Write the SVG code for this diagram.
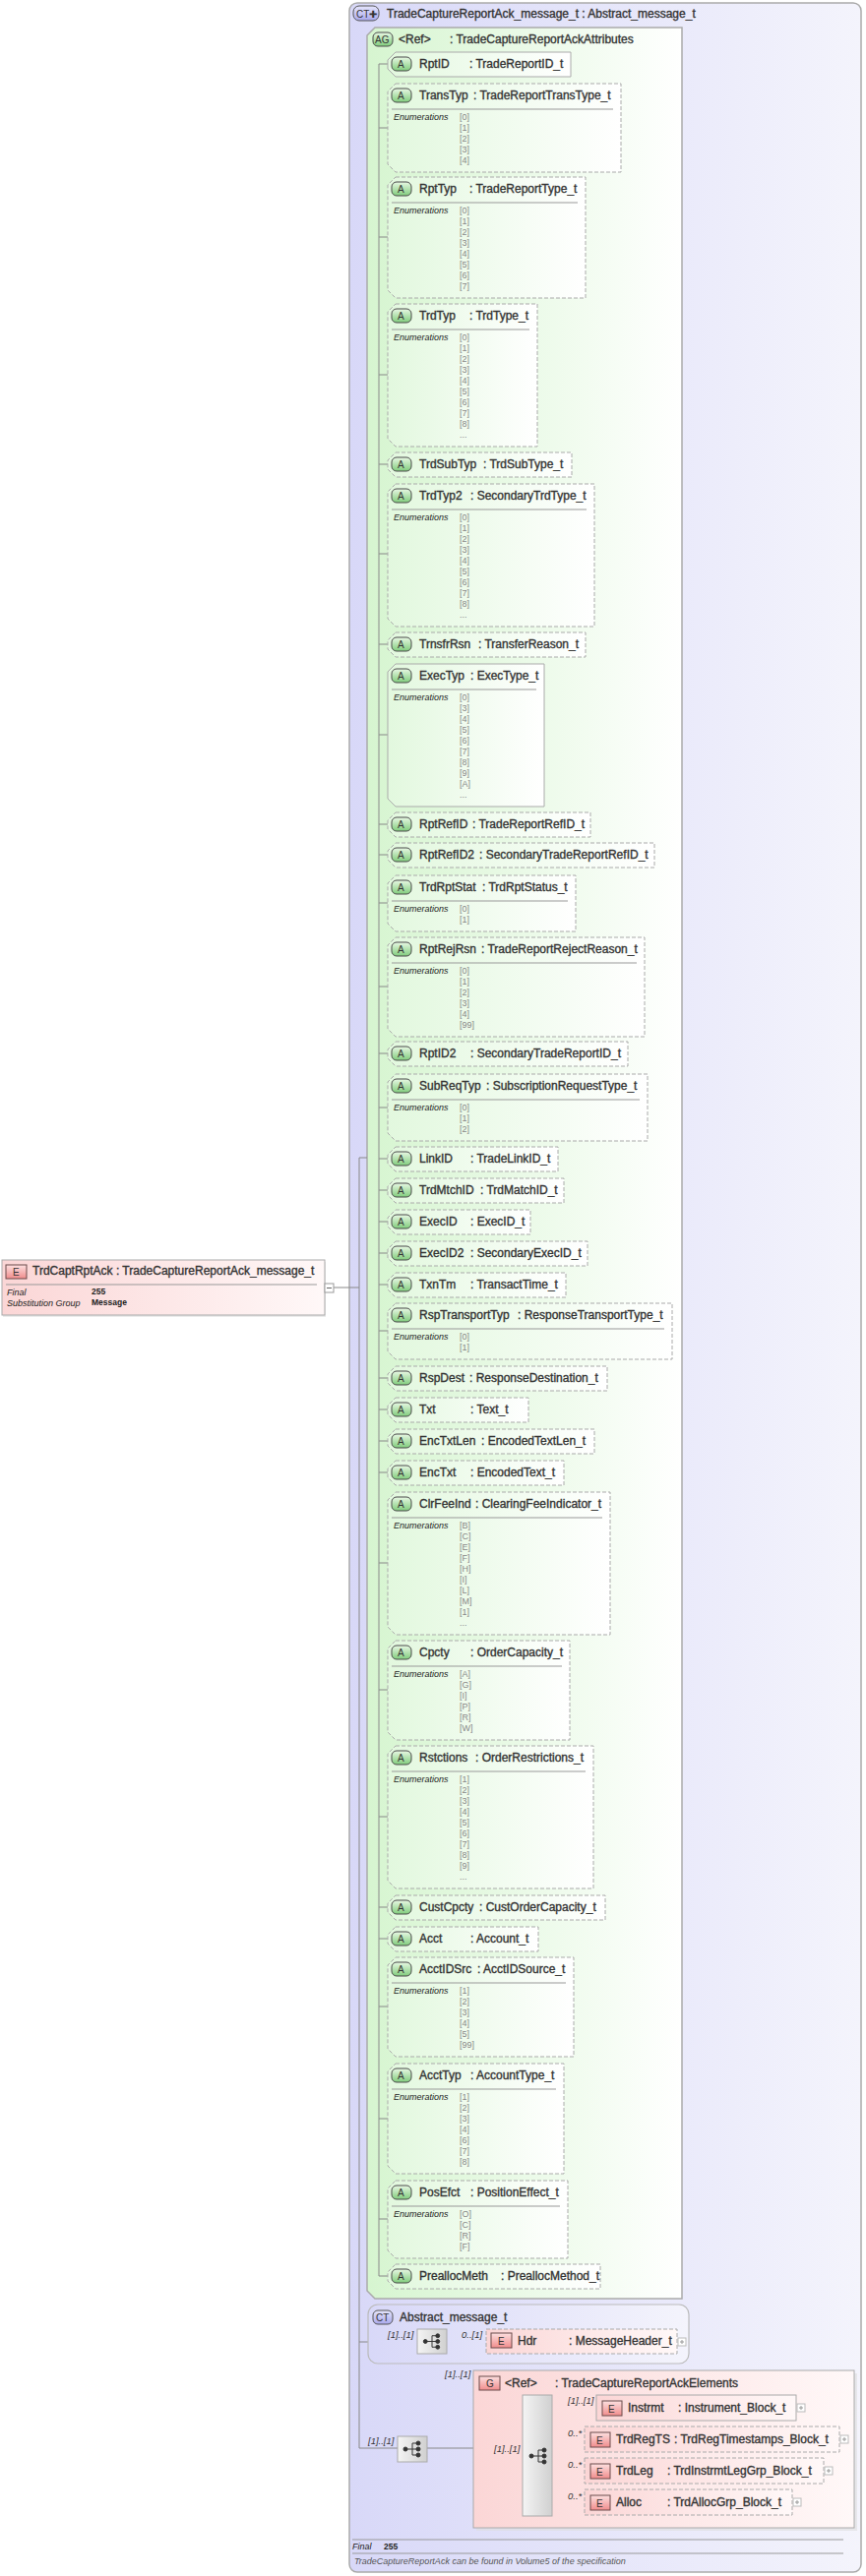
<svg xmlns="http://www.w3.org/2000/svg" width="880" height="2619" viewBox="0 0 880 2619">
<defs>
<linearGradient id="gCT" x1="0" x2="1" y1="0" y2="0"><stop offset="0" stop-color="#d8d8f8"/><stop offset="1" stop-color="#f4f4fc"/></linearGradient>
<linearGradient id="gAG" x1="0" x2="1" y1="0" y2="0"><stop offset="0" stop-color="#d6f5d0"/><stop offset="1" stop-color="#ffffff"/></linearGradient>
<linearGradient id="gAt" x1="0" x2="1" y1="0" y2="0"><stop offset="0" stop-color="#e2f8de"/><stop offset="1" stop-color="#ffffff"/></linearGradient>
<linearGradient id="gE" x1="0" x2="1" y1="0" y2="0"><stop offset="0" stop-color="#fbd6d6"/><stop offset="1" stop-color="#fff8f8"/></linearGradient>
<linearGradient id="gBA" x1="0" x2="0" y1="0" y2="1"><stop offset="0" stop-color="#e8f8e4"/><stop offset="1" stop-color="#80cc7c"/></linearGradient>
<linearGradient id="gBE" x1="0" x2="0" y1="0" y2="1"><stop offset="0" stop-color="#fde0e0"/><stop offset="1" stop-color="#f08c8c"/></linearGradient>
<linearGradient id="gBC" x1="0" x2="0" y1="0" y2="1"><stop offset="0" stop-color="#e6e6fc"/><stop offset="1" stop-color="#a8a8ec"/></linearGradient>
<linearGradient id="gSeq" x1="0" x2="1" y1="0" y2="0"><stop offset="0" stop-color="#f4f4f4"/><stop offset="1" stop-color="#d0d0d0"/></linearGradient>
<symbol id="seqI" viewBox="0 0 30 26"><g fill="#333" stroke="#333" stroke-width="1"><circle cx="8" cy="13" r="2"/><line x1="8" y1="13" x2="15" y2="13"/><line x1="15" y1="7" x2="15" y2="19"/><line x1="15" y1="7" x2="20" y2="7"/><line x1="15" y1="13" x2="20" y2="13"/><line x1="15" y1="19" x2="20" y2="19"/><circle cx="21" cy="7" r="2"/><circle cx="21" cy="13" r="2"/><circle cx="21" cy="19" r="2"/></g></symbol>
</defs>
<style>
text{font-family:"Liberation Sans",Arial,sans-serif}
.n{font-size:12px;fill:#333;stroke:#333;stroke-width:0.35}
.en{font-size:9px;font-style:italic;fill:#222}
.ev{font-size:9px;fill:#888}
.bd{font-size:10px;fill:#333}
.m{font-size:9.5px;font-style:italic;fill:#333}
.ab{stroke:#aaa;stroke-width:1;fill:url(#gAt)}
.dash{stroke-dasharray:4 2}
.ba{fill:url(#gBA);stroke:#4a4a4a;stroke-width:1}
.be{fill:url(#gBE);stroke:#6a4a4a;stroke-width:1}
.cn{stroke:#888;stroke-width:1;fill:none}
.sep{stroke:#999;stroke-width:1}
</style>

<g id="ct-main">
<rect x="355" y="3" width="520" height="2612" rx="8" fill="url(#gCT)" stroke="#aaa" stroke-width="1.5"/>
<rect x="359" y="6" width="26" height="15" rx="6" fill="url(#gBC)" stroke="#555"/>
<text x="362" y="18" class="bd">CT✚</text>
<text x="393" y="18" class="n">TradeCaptureReportAck_message_t : Abstract_message_t</text>
<line x1="358" y1="2582" x2="857" y2="2582" class="sep"/>
<text x="358" y="2592" class="en">Final</text>
<text x="390" y="2592" style="font-size:8.5px;font-weight:bold;fill:#222">255</text>
<line x1="358" y1="2596" x2="857" y2="2596" class="sep"/>
<text x="360" y="2607" class="en" style="fill:#555">TradeCaptureReportAck can be found in Volume5 of the specification</text>
</g>

<g id="ag">
<path d="M381,28 H693 V2337 H381 L373,2329 V36 Z" fill="url(#gAG)" stroke="#aaa" stroke-width="1.5"/>
<rect x="379" y="33" width="20" height="14" rx="5" class="ba"/>
<text x="381" y="44" class="bd">AG</text>
<text x="405" y="44" class="n">&lt;Ref&gt;</text>
<text x="457" y="44" class="n">: TradeCaptureReportAckAttributes</text>
</g>

<g id="connectors">
<path d="M385,65 V2314" class="cn"/>
<path d="M385,65 H394 M385,130 H394 M385,241 H394 M385,381 H394 M385,472 H394 M385,563 H394 M385,655 H394 M385,747 H394 M385,838 H394 M385,869 H394 M385,918 H394 M385,1003 H394 M385,1071 H394 M385,1126 H394 M385,1178 H394 M385,1210 H394 M385,1242 H394 M385,1274 H394 M385,1306 H394 M385,1353 H394 M385,1401 H394 M385,1433 H394 M385,1465 H394 M385,1497 H394 M385,1589 H394 M385,1718 H394 M385,1847 H394 M385,1939 H394 M385,1971 H394 M385,2040 H394 M385,2154 H394 M385,2256 H394 M385,2314 H394" class="cn"/>
<path d="M339,1309 H365 M365,1177 V2489 M365,1177 H373 M365,2381 H374" class="cn"/>
<path d="M374,2381 H424 M454,2381 H494 M365,2489 H404 M434,2489 H481 M481,2497 H531 M561,2448 H606 M561,2480 H594 M561,2512 H594 M561,2544 H594" class="cn"/>
</g>

<g id="root">
<rect x="3" y="1283" width="328" height="56" fill="#ddd" opacity="0.6"/>
<rect x="2" y="1281" width="328" height="56" fill="url(#gE)" stroke="#aaa"/>
<rect x="6" y="1286" width="21" height="14" class="be"/>
<text x="13" y="1297" class="bd">E</text>
<text x="33" y="1296" class="n">TrdCaptRptAck : TradeCaptureReportAck_message_t</text>
<line x1="6" y1="1306" x2="322" y2="1306" class="sep"/>
<text x="7" y="1317" class="en">Final</text>
<text x="93" y="1316" style="font-size:8.5px;font-weight:bold;fill:#222">255</text>
<text x="7" y="1328" class="en">Substitution Group</text>
<text x="93" y="1327" style="font-size:8.5px;font-weight:bold;fill:#222">Message</text>
<rect x="330" y="1305" width="9" height="9" fill="#fff" stroke="#999"/>
<line x1="332" y1="1309.5" x2="337" y2="1309.5" stroke="#666"/>
</g>

<g id="RptID"><path d="M402,53 H580 V78 H402 L394,70 V61 Z" class="ab"/><rect x="398" y="58" width="20" height="14" rx="5" class="ba"/><text x="404" y="69" class="bd">A</text><text x="426" y="69" class="n">RptID</text><text x="477" y="69" class="n">: TradeReportID_t</text></g>

<g id="TransTyp"><path d="M402,85 H631 V175 H402 L394,167 V93 Z" class="ab dash"/><rect x="398" y="90" width="20" height="14" rx="5" class="ba"/><text x="404" y="101" class="bd">A</text><text x="426" y="101" class="n">TransTyp</text><text x="481" y="101" class="n">: TradeReportTransType_t</text><line x1="398" y1="111" x2="623" y2="111" class="sep"/><text x="400" y="122" class="en">Enumerations</text><text class="ev" x="467"><tspan x="467" y="122">[0]</tspan><tspan x="467" y="133">[1]</tspan><tspan x="467" y="144">[2]</tspan><tspan x="467" y="155">[3]</tspan><tspan x="467" y="166">[4]</tspan></text></g>

<g id="RptTyp"><path d="M402,180 H595 V303 H402 L394,295 V188 Z" class="ab dash"/><rect x="398" y="185" width="20" height="14" rx="5" class="ba"/><text x="404" y="196" class="bd">A</text><text x="426" y="196" class="n">RptTyp</text><text x="477" y="196" class="n">: TradeReportType_t</text><line x1="398" y1="206" x2="587" y2="206" class="sep"/><text x="400" y="217" class="en">Enumerations</text><text class="ev"><tspan x="467" y="217">[0]</tspan><tspan x="467" y="228">[1]</tspan><tspan x="467" y="239">[2]</tspan><tspan x="467" y="250">[3]</tspan><tspan x="467" y="261">[4]</tspan><tspan x="467" y="272">[5]</tspan><tspan x="467" y="283">[6]</tspan><tspan x="467" y="294">[7]</tspan></text></g>

<g id="TrdTyp"><path d="M402,309 H546 V454 H402 L394,446 V317 Z" class="ab dash"/><rect x="398" y="314" width="20" height="14" rx="5" class="ba"/><text x="404" y="325" class="bd">A</text><text x="426" y="325" class="n">TrdTyp</text><text x="477" y="325" class="n">: TrdType_t</text><line x1="398" y1="335" x2="538" y2="335" class="sep"/><text x="400" y="346" class="en">Enumerations</text><text class="ev"><tspan x="467" y="346">[0]</tspan><tspan x="467" y="357">[1]</tspan><tspan x="467" y="368">[2]</tspan><tspan x="467" y="379">[3]</tspan><tspan x="467" y="390">[4]</tspan><tspan x="467" y="401">[5]</tspan><tspan x="467" y="412">[6]</tspan><tspan x="467" y="423">[7]</tspan><tspan x="467" y="434">[8]</tspan><tspan x="467" y="445">...</tspan></text></g>

<g id="TrdSubTyp"><path d="M402,460 H581 V485 H402 L394,477 V468 Z" class="ab dash"/><rect x="398" y="465" width="20" height="14" rx="5" class="ba"/><text x="404" y="476" class="bd">A</text><text x="426" y="476" class="n">TrdSubTyp</text><text x="491" y="476" class="n">: TrdSubType_t</text></g>

<g id="TrdTyp2"><path d="M402,492 H604 V637 H402 L394,629 V500 Z" class="ab dash"/><rect x="398" y="497" width="20" height="14" rx="5" class="ba"/><text x="404" y="508" class="bd">A</text><text x="426" y="508" class="n">TrdTyp2</text><text x="478" y="508" class="n">: SecondaryTrdType_t</text><line x1="398" y1="518" x2="596" y2="518" class="sep"/><text x="400" y="529" class="en">Enumerations</text><text class="ev"><tspan x="467" y="529">[0]</tspan><tspan x="467" y="540">[1]</tspan><tspan x="467" y="551">[2]</tspan><tspan x="467" y="562">[3]</tspan><tspan x="467" y="573">[4]</tspan><tspan x="467" y="584">[5]</tspan><tspan x="467" y="595">[6]</tspan><tspan x="467" y="606">[7]</tspan><tspan x="467" y="617">[8]</tspan><tspan x="467" y="628">...</tspan></text></g>

<g id="TrnsfrRsn"><path d="M402,643 H595 V668 H402 L394,660 V651 Z" class="ab dash"/><rect x="398" y="648" width="20" height="14" rx="5" class="ba"/><text x="404" y="659" class="bd">A</text><text x="426" y="659" class="n">TrnsfrRsn</text><text x="486" y="659" class="n">: TransferReason_t</text></g>

<g id="ExecTyp"><path d="M402,675 H553 V820 H402 L394,812 V683 Z" class="ab"/><rect x="398" y="680" width="20" height="14" rx="5" class="ba"/><text x="404" y="691" class="bd">A</text><text x="426" y="691" class="n">ExecTyp</text><text x="478" y="691" class="n">: ExecType_t</text><line x1="398" y1="701" x2="545" y2="701" class="sep"/><text x="400" y="712" class="en">Enumerations</text><text class="ev"><tspan x="467" y="712">[0]</tspan><tspan x="467" y="723">[3]</tspan><tspan x="467" y="734">[4]</tspan><tspan x="467" y="745">[5]</tspan><tspan x="467" y="756">[6]</tspan><tspan x="467" y="767">[7]</tspan><tspan x="467" y="778">[8]</tspan><tspan x="467" y="789">[9]</tspan><tspan x="467" y="800">[A]</tspan><tspan x="467" y="811">...</tspan></text></g>

<g id="RptRefID"><path d="M402,826 H600 V851 H402 L394,843 V834 Z" class="ab dash"/><rect x="398" y="831" width="20" height="14" rx="5" class="ba"/><text x="404" y="842" class="bd">A</text><text x="426" y="842" class="n">RptRefID</text><text x="480" y="842" class="n">: TradeReportRefID_t</text></g>

<g id="RptRefID2"><path d="M402,857 H665 V882 H402 L394,874 V865 Z" class="ab dash"/><rect x="398" y="862" width="20" height="14" rx="5" class="ba"/><text x="404" y="873" class="bd">A</text><text x="426" y="873" class="n">RptRefID2</text><text x="487" y="873" class="n">: SecondaryTradeReportRefID_t</text></g>

<g id="TrdRptStat"><path d="M402,890 H585 V947 H402 L394,939 V898 Z" class="ab dash"/><rect x="398" y="895" width="20" height="14" rx="5" class="ba"/><text x="404" y="906" class="bd">A</text><text x="426" y="906" class="n">TrdRptStat</text><text x="490" y="906" class="n">: TrdRptStatus_t</text><line x1="398" y1="916" x2="577" y2="916" class="sep"/><text x="400" y="927" class="en">Enumerations</text><text class="ev"><tspan x="467" y="927">[0]</tspan><tspan x="467" y="938">[1]</tspan></text></g>

<g id="RptRejRsn"><path d="M402,953 H655 V1054 H402 L394,1046 V961 Z" class="ab dash"/><rect x="398" y="958" width="20" height="14" rx="5" class="ba"/><text x="404" y="969" class="bd">A</text><text x="426" y="969" class="n">RptRejRsn</text><text x="489" y="969" class="n">: TradeReportRejectReason_t</text><line x1="398" y1="979" x2="647" y2="979" class="sep"/><text x="400" y="990" class="en">Enumerations</text><text class="ev"><tspan x="467" y="990">[0]</tspan><tspan x="467" y="1001">[1]</tspan><tspan x="467" y="1012">[2]</tspan><tspan x="467" y="1023">[3]</tspan><tspan x="467" y="1034">[4]</tspan><tspan x="467" y="1045">[99]</tspan></text></g>

<g id="RptID2"><path d="M402,1059 H638 V1084 H402 L394,1076 V1067 Z" class="ab dash"/><rect x="398" y="1064" width="20" height="14" rx="5" class="ba"/><text x="404" y="1075" class="bd">A</text><text x="426" y="1075" class="n">RptID2</text><text x="478" y="1075" class="n">: SecondaryTradeReportID_t</text></g>

<g id="SubReqTyp"><path d="M402,1092 H658 V1160 H402 L394,1152 V1100 Z" class="ab dash"/><rect x="398" y="1097" width="20" height="14" rx="5" class="ba"/><text x="404" y="1108" class="bd">A</text><text x="426" y="1108" class="n">SubReqTyp</text><text x="494" y="1108" class="n">: SubscriptionRequestType_t</text><line x1="398" y1="1118" x2="650" y2="1118" class="sep"/><text x="400" y="1129" class="en">Enumerations</text><text class="ev"><tspan x="467" y="1129">[0]</tspan><tspan x="467" y="1140">[1]</tspan><tspan x="467" y="1151">[2]</tspan></text></g>

<g id="LinkID"><path d="M402,1166 H567 V1191 H402 L394,1183 V1174 Z" class="ab dash"/><rect x="398" y="1171" width="20" height="14" rx="5" class="ba"/><text x="404" y="1182" class="bd">A</text><text x="426" y="1182" class="n">LinkID</text><text x="478" y="1182" class="n">: TradeLinkID_t</text></g>

<g id="TrdMtchID"><path d="M402,1198 H573 V1223 H402 L394,1215 V1206 Z" class="ab dash"/><rect x="398" y="1203" width="20" height="14" rx="5" class="ba"/><text x="404" y="1214" class="bd">A</text><text x="426" y="1214" class="n">TrdMtchID</text><text x="488" y="1214" class="n">: TrdMatchID_t</text></g>

<g id="ExecID"><path d="M402,1230 H539 V1255 H402 L394,1247 V1238 Z" class="ab dash"/><rect x="398" y="1235" width="20" height="14" rx="5" class="ba"/><text x="404" y="1246" class="bd">A</text><text x="426" y="1246" class="n">ExecID</text><text x="478" y="1246" class="n">: ExecID_t</text></g>

<g id="ExecID2"><path d="M402,1262 H597 V1287 H402 L394,1279 V1270 Z" class="ab dash"/><rect x="398" y="1267" width="20" height="14" rx="5" class="ba"/><text x="404" y="1278" class="bd">A</text><text x="426" y="1278" class="n">ExecID2</text><text x="478" y="1278" class="n">: SecondaryExecID_t</text></g>

<g id="TxnTm"><path d="M402,1294 H575 V1319 H402 L394,1311 V1302 Z" class="ab dash"/><rect x="398" y="1299" width="20" height="14" rx="5" class="ba"/><text x="404" y="1310" class="bd">A</text><text x="426" y="1310" class="n">TxnTm</text><text x="478" y="1310" class="n">: TransactTime_t</text></g>

<g id="RspTransportTyp"><path d="M402,1325 H683 V1382 H402 L394,1374 V1333 Z" class="ab dash"/><rect x="398" y="1330" width="20" height="14" rx="5" class="ba"/><text x="404" y="1341" class="bd">A</text><text x="426" y="1341" class="n">RspTransportTyp</text><text x="526" y="1341" class="n">: ResponseTransportType_t</text><line x1="398" y1="1351" x2="675" y2="1351" class="sep"/><text x="400" y="1362" class="en">Enumerations</text><text class="ev"><tspan x="467" y="1362">[0]</tspan><tspan x="467" y="1373">[1]</tspan></text></g>

<g id="RspDest"><path d="M402,1389 H617 V1414 H402 L394,1406 V1397 Z" class="ab dash"/><rect x="398" y="1394" width="20" height="14" rx="5" class="ba"/><text x="404" y="1405" class="bd">A</text><text x="426" y="1405" class="n">RspDest</text><text x="477" y="1405" class="n">: ResponseDestination_t</text></g>

<g id="Txt"><path d="M402,1421 H537 V1446 H402 L394,1438 V1429 Z" class="ab dash"/><rect x="398" y="1426" width="20" height="14" rx="5" class="ba"/><text x="404" y="1437" class="bd">A</text><text x="426" y="1437" class="n">Txt</text><text x="478" y="1437" class="n">: Text_t</text></g>

<g id="EncTxtLen"><path d="M402,1453 H604 V1478 H402 L394,1470 V1461 Z" class="ab dash"/><rect x="398" y="1458" width="20" height="14" rx="5" class="ba"/><text x="404" y="1469" class="bd">A</text><text x="426" y="1469" class="n">EncTxtLen</text><text x="489" y="1469" class="n">: EncodedTextLen_t</text></g>

<g id="EncTxt"><path d="M402,1485 H573 V1510 H402 L394,1502 V1493 Z" class="ab dash"/><rect x="398" y="1490" width="20" height="14" rx="5" class="ba"/><text x="404" y="1501" class="bd">A</text><text x="426" y="1501" class="n">EncTxt</text><text x="478" y="1501" class="n">: EncodedText_t</text></g>

<g id="ClrFeeInd"><path d="M402,1517 H620 V1662 H402 L394,1654 V1525 Z" class="ab dash"/><rect x="398" y="1522" width="20" height="14" rx="5" class="ba"/><text x="404" y="1533" class="bd">A</text><text x="426" y="1533" class="n">ClrFeeInd</text><text x="483" y="1533" class="n">: ClearingFeeIndicator_t</text><line x1="398" y1="1543" x2="612" y2="1543" class="sep"/><text x="400" y="1554" class="en">Enumerations</text><text class="ev"><tspan x="467" y="1554">[B]</tspan><tspan x="467" y="1565">[C]</tspan><tspan x="467" y="1576">[E]</tspan><tspan x="467" y="1587">[F]</tspan><tspan x="467" y="1598">[H]</tspan><tspan x="467" y="1609">[I]</tspan><tspan x="467" y="1620">[L]</tspan><tspan x="467" y="1631">[M]</tspan><tspan x="467" y="1642">[1]</tspan><tspan x="467" y="1653">...</tspan></text></g>

<g id="Cpcty"><path d="M402,1668 H579 V1769 H402 L394,1761 V1676 Z" class="ab dash"/><rect x="398" y="1673" width="20" height="14" rx="5" class="ba"/><text x="404" y="1684" class="bd">A</text><text x="426" y="1684" class="n">Cpcty</text><text x="478" y="1684" class="n">: OrderCapacity_t</text><line x1="398" y1="1694" x2="571" y2="1694" class="sep"/><text x="400" y="1705" class="en">Enumerations</text><text class="ev"><tspan x="467" y="1705">[A]</tspan><tspan x="467" y="1716">[G]</tspan><tspan x="467" y="1727">[I]</tspan><tspan x="467" y="1738">[P]</tspan><tspan x="467" y="1749">[R]</tspan><tspan x="467" y="1760">[W]</tspan></text></g>

<g id="Rstctions"><path d="M402,1775 H603 V1920 H402 L394,1912 V1783 Z" class="ab dash"/><rect x="398" y="1780" width="20" height="14" rx="5" class="ba"/><text x="404" y="1791" class="bd">A</text><text x="426" y="1791" class="n">Rstctions</text><text x="483" y="1791" class="n">: OrderRestrictions_t</text><line x1="398" y1="1801" x2="595" y2="1801" class="sep"/><text x="400" y="1812" class="en">Enumerations</text><text class="ev"><tspan x="467" y="1812">[1]</tspan><tspan x="467" y="1823">[2]</tspan><tspan x="467" y="1834">[3]</tspan><tspan x="467" y="1845">[4]</tspan><tspan x="467" y="1856">[5]</tspan><tspan x="467" y="1867">[6]</tspan><tspan x="467" y="1878">[7]</tspan><tspan x="467" y="1889">[8]</tspan><tspan x="467" y="1900">[9]</tspan><tspan x="467" y="1911">...</tspan></text></g>

<g id="CustCpcty"><path d="M402,1927 H615 V1952 H402 L394,1944 V1935 Z" class="ab dash"/><rect x="398" y="1932" width="20" height="14" rx="5" class="ba"/><text x="404" y="1943" class="bd">A</text><text x="426" y="1943" class="n">CustCpcty</text><text x="487" y="1943" class="n">: CustOrderCapacity_t</text></g>

<g id="Acct"><path d="M402,1959 H547 V1984 H402 L394,1976 V1967 Z" class="ab dash"/><rect x="398" y="1964" width="20" height="14" rx="5" class="ba"/><text x="404" y="1975" class="bd">A</text><text x="426" y="1975" class="n">Acct</text><text x="478" y="1975" class="n">: Account_t</text></g>

<g id="AcctIDSrc"><path d="M402,1990 H583 V2091 H402 L394,2083 V1998 Z" class="ab dash"/><rect x="398" y="1995" width="20" height="14" rx="5" class="ba"/><text x="404" y="2006" class="bd">A</text><text x="426" y="2006" class="n">AcctIDSrc</text><text x="485" y="2006" class="n">: AcctIDSource_t</text><line x1="398" y1="2016" x2="575" y2="2016" class="sep"/><text x="400" y="2027" class="en">Enumerations</text><text class="ev"><tspan x="467" y="2027">[1]</tspan><tspan x="467" y="2038">[2]</tspan><tspan x="467" y="2049">[3]</tspan><tspan x="467" y="2060">[4]</tspan><tspan x="467" y="2071">[5]</tspan><tspan x="467" y="2082">[99]</tspan></text></g>

<g id="AcctTyp"><path d="M402,2098 H573 V2210 H402 L394,2202 V2106 Z" class="ab dash"/><rect x="398" y="2103" width="20" height="14" rx="5" class="ba"/><text x="404" y="2114" class="bd">A</text><text x="426" y="2114" class="n">AcctTyp</text><text x="478" y="2114" class="n">: AccountType_t</text><line x1="398" y1="2124" x2="565" y2="2124" class="sep"/><text x="400" y="2135" class="en">Enumerations</text><text class="ev"><tspan x="467" y="2135">[1]</tspan><tspan x="467" y="2146">[2]</tspan><tspan x="467" y="2157">[3]</tspan><tspan x="467" y="2168">[4]</tspan><tspan x="467" y="2179">[6]</tspan><tspan x="467" y="2190">[7]</tspan><tspan x="467" y="2201">[8]</tspan></text></g>

<g id="PosEfct"><path d="M402,2217 H577 V2296 H402 L394,2288 V2225 Z" class="ab dash"/><rect x="398" y="2222" width="20" height="14" rx="5" class="ba"/><text x="404" y="2233" class="bd">A</text><text x="426" y="2233" class="n">PosEfct</text><text x="478" y="2233" class="n">: PositionEffect_t</text><line x1="398" y1="2243" x2="569" y2="2243" class="sep"/><text x="400" y="2254" class="en">Enumerations</text><text class="ev"><tspan x="467" y="2254">[O]</tspan><tspan x="467" y="2265">[C]</tspan><tspan x="467" y="2276">[R]</tspan><tspan x="467" y="2287">[F]</tspan></text></g>

<g id="PreallocMeth"><path d="M402,2302 H610 V2327 H402 L394,2319 V2310 Z" class="ab dash"/><rect x="398" y="2307" width="20" height="14" rx="5" class="ba"/><text x="404" y="2318" class="bd">A</text><text x="426" y="2318" class="n">PreallocMeth</text><text x="509" y="2318" class="n">: PreallocMethod_t</text></g>

<g id="abstract">
<rect x="374" y="2343" width="326" height="60" rx="10" fill="url(#gCT)" stroke="#bbb" stroke-width="1.2"/>
<rect x="379" y="2349" width="20" height="14" rx="5" fill="url(#gBC)" stroke="#555"/>
<text x="382" y="2360" class="bd">CT</text>
<text x="406" y="2360" class="n">Abstract_message_t</text>
<text x="394" y="2377" class="m">[1]..[1]</text>
<rect x="424" y="2368" width="30" height="25" fill="url(#gSeq)" stroke="#aaa"/>
<use href="#seqI" x="424" y="2368" width="30" height="25"/>
<text x="469" y="2377" class="m">0..[1]</text>
</g>

<g id="Hdr">
<rect x="494" y="2368" width="194" height="25" fill="url(#gE)" stroke="#aaa" class="dash"/>
<rect x="499" y="2372" width="21" height="15" class="be"/><text x="506" y="2384" class="bd">E</text>
<text x="526" y="2384" class="n">Hdr</text><text x="578" y="2384" class="n">: MessageHeader_t</text>
<rect x="689" y="2377" width="8" height="8" fill="#fff" stroke="#bbb"/><path d="M691,2381 H695 M693,2379 V2383" stroke="#999"/>
</g>

<g id="seq-main">
<text x="374" y="2485" class="m">[1]..[1]</text>
<rect x="404" y="2477" width="30" height="26" fill="url(#gSeq)" stroke="#aaa"/>
<use href="#seqI" x="404" y="2477" width="30" height="26"/>
</g>

<g id="G">
<rect x="484" y="2413" width="387" height="160" fill="#ddd" opacity="0.6"/>
<rect x="481" y="2410" width="387" height="160" fill="url(#gE)" stroke="#aaa"/>
<text x="452" y="2417" class="m">[1]..[1]</text>
<rect x="487" y="2416" width="21" height="14" class="be"/><text x="494" y="2427" class="bd">G</text>
<text x="513" y="2427" class="n">&lt;Ref&gt;</text><text x="564" y="2427" class="n">: TradeCaptureReportAckElements</text>
<text x="502" y="2493" class="m">[1]..[1]</text>
<rect x="531" y="2435" width="30" height="123" fill="url(#gSeq)" stroke="#aaa"/>
<use href="#seqI" x="532" y="2484" width="30" height="26"/>
</g>

<g id="Instrmt">
<text x="577" y="2444" class="m">[1]..[1]</text>
<rect x="606" y="2435" width="203" height="26" fill="url(#gE)" stroke="#aaa"/>
<rect x="612" y="2441" width="20" height="15" class="be"/><text x="618" y="2453" class="bd">E</text>
<text x="638" y="2452" class="n">Instrmt</text><text x="689" y="2452" class="n">: Instrument_Block_t</text>
<rect x="810" y="2444" width="8" height="8" fill="#fff" stroke="#bbb"/><path d="M812,2448 H816 M814,2446 V2450" stroke="#999"/>
</g>
<g id="TrdRegTS">
<text x="577" y="2477" class="m">0..*</text>
<rect x="594" y="2467" width="259" height="26" fill="url(#gE)" stroke="#aaa" class="dash"/>
<rect x="600" y="2473" width="20" height="15" class="be"/><text x="606" y="2485" class="bd">E</text>
<text x="626" y="2484" class="n">TrdRegTS</text><text x="685" y="2484" class="n">: TrdRegTimestamps_Block_t</text>
<rect x="854" y="2476" width="8" height="8" fill="#fff" stroke="#bbb"/><path d="M856,2480 H860 M858,2478 V2482" stroke="#999"/>
</g>
<g id="TrdLeg">
<text x="577" y="2509" class="m">0..*</text>
<rect x="594" y="2499" width="243" height="26" fill="url(#gE)" stroke="#aaa" class="dash"/>
<rect x="600" y="2505" width="20" height="15" class="be"/><text x="606" y="2517" class="bd">E</text>
<text x="626" y="2516" class="n">TrdLeg</text><text x="678" y="2516" class="n">: TrdInstrmtLegGrp_Block_t</text>
<rect x="838" y="2508" width="8" height="8" fill="#fff" stroke="#bbb"/><path d="M840,2512 H844 M842,2510 V2514" stroke="#999"/>
</g>
<g id="Alloc">
<text x="577" y="2541" class="m">0..*</text>
<rect x="594" y="2531" width="211" height="26" fill="url(#gE)" stroke="#aaa" class="dash"/>
<rect x="600" y="2537" width="20" height="15" class="be"/><text x="606" y="2549" class="bd">E</text>
<text x="626" y="2548" class="n">Alloc</text><text x="678" y="2548" class="n">: TrdAllocGrp_Block_t</text>
<rect x="806" y="2540" width="8" height="8" fill="#fff" stroke="#bbb"/><path d="M808,2544 H812 M810,2542 V2546" stroke="#999"/>
</g>
</svg>
